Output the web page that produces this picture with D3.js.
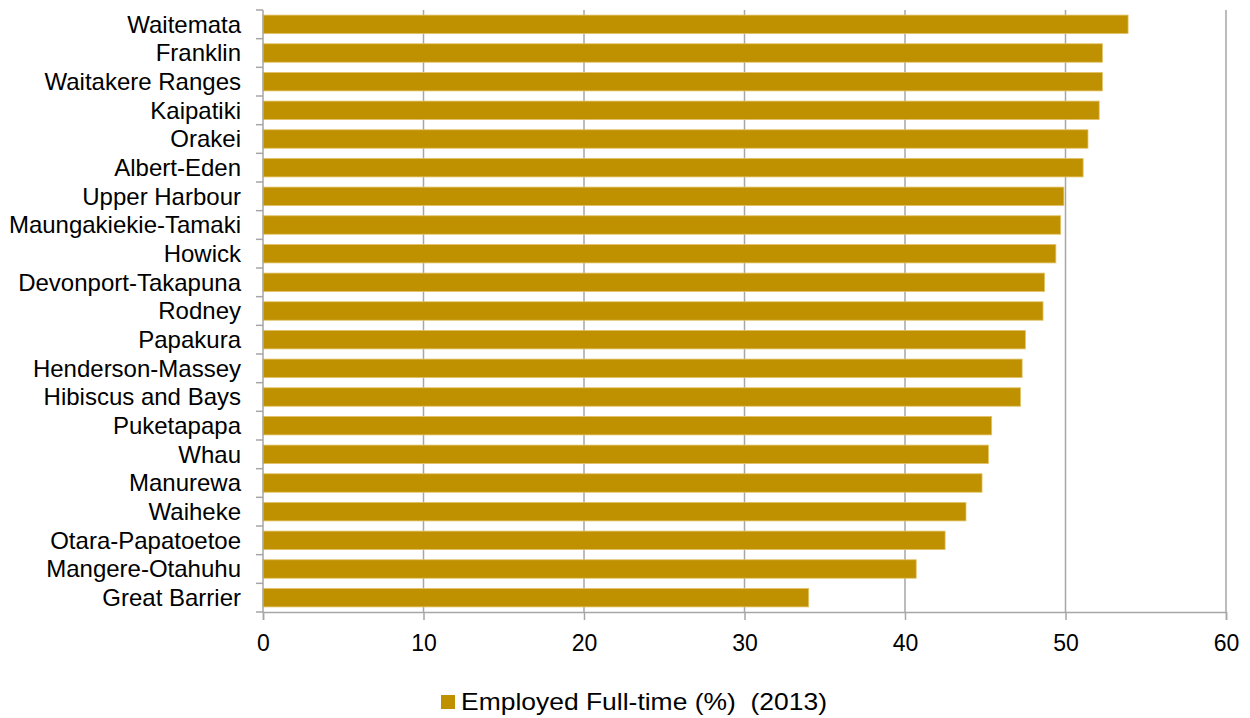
<!DOCTYPE html>
<html>
<head>
<meta charset="utf-8">
<script src="https://d3js.org/d3.v7.min.js"></script>
<style>
  body { margin: 0; background: #fff; }
  text { font-family: "Liberation Sans", Arial, sans-serif; fill: #000; }
</style>
</head>
<body>
<script>
var boards = ["Waitemata", "Franklin", "Waitakere Ranges", "Kaipatiki", "Orakei", "Albert-Eden",
  "Upper Harbour", "Maungakiekie-Tamaki", "Howick", "Devonport-Takapuna", "Rodney", "Papakura",
  "Henderson-Massey", "Hibiscus and Bays", "Puketapapa", "Whau", "Manurewa", "Waiheke",
  "Otara-Papatoetoe", "Mangere-Otahuhu", "Great Barrier"];
var fullTime = [53.9, 52.3, 52.3, 52.1, 51.4, 51.1, 49.9, 49.7, 49.4, 48.7, 48.6, 47.5,
  47.3, 47.2, 45.4, 45.2, 44.8, 43.8, 42.5, 40.7, 34.0];
var xTicks = [0, 10, 20, 30, 40, 50, 60];
var seriesName = "Employed Full-time (%)  (2013)";

var W = 1250, H = 718;
var margin = {top: 10, right: 24, bottom: 106, left: 263};
var w = W - margin.left - margin.right,
    h = H - margin.top - margin.bottom;

var svg = d3.select("body").append("svg")
  .attr("width", W).attr("height", H);
var g = svg.append("g")
  .attr("transform", "translate(" + margin.left + "," + margin.top + ")");

var x = d3.scaleLinear().domain([0, 60]).range([0, w]);
var y = d3.scaleBand().domain(boards).range([0, h])
  .paddingInner(0.355).paddingOuter(0.1775);

// vertical gridlines
g.selectAll(".grid").data(xTicks.slice(1)).enter().append("line")
  .attr("x1", function(d) { return x(d); })
  .attr("x2", function(d) { return x(d); })
  .attr("y1", 0).attr("y2", h)
  .attr("stroke", "#a6a6a6").attr("stroke-width", 1.5);

// bars
g.selectAll(".bar").data(boards).enter().append("rect")
  .attr("x", x(0))
  .attr("y", function(d) { return y(d); })
  .attr("width", function(d, i) { return x(fullTime[i]) - x(0); })
  .attr("height", y.bandwidth())
  .attr("fill", "#bf9000")
  .attr("stroke", "#e3c46a").attr("stroke-width", 0.8);

// bottom axis
var xAxis = d3.axisBottom(x).tickValues(xTicks).tickSize(8).tickPadding(15);
var gx = g.append("g").attr("transform", "translate(0," + h + ")").call(xAxis);
gx.select(".domain").attr("stroke", "#a6a6a6").attr("stroke-width", 1.5);
gx.selectAll(".tick line").attr("stroke", "#a6a6a6").attr("stroke-width", 1.5);
gx.selectAll(".tick text").style("font-size", "23px")
  .style("font-family", "'Liberation Sans', Arial, sans-serif").attr("fill", "#000");

// left axis: line with ticks at category boundaries
g.append("line").attr("x1", 0).attr("x2", 0).attr("y1", 0).attr("y2", h)
  .attr("stroke", "#a6a6a6").attr("stroke-width", 1.5);
var step = y.step();
var bounds = d3.range(boards.length + 1);
g.selectAll(".ytick").data(bounds).enter().append("line")
  .attr("x1", -7).attr("x2", 0)
  .attr("y1", function(d) { return d * step; })
  .attr("y2", function(d) { return d * step; })
  .attr("stroke", "#a6a6a6").attr("stroke-width", 1.5);

g.selectAll(".ylab").data(boards).enter().append("text")
  .attr("x", -22)
  .attr("y", function(d) { return y(d) + y.bandwidth() / 2; })
  .attr("dy", "0.35em")
  .attr("text-anchor", "end")
  .style("font-size", "24px")
  .text(function(d) { return d; });

// legend
var leg = svg.append("g").attr("transform", "translate(441,695)");
leg.append("rect").attr("width", 14).attr("height", 14).attr("fill", "#bf9000");
leg.append("text").attr("x", 20).attr("y", 7).attr("dy", "0.35em")
  .style("font-size", "24px")
  .attr("xml:space", "preserve")
  .attr("textLength", 366).attr("lengthAdjust", "spacingAndGlyphs")
  .text(seriesName);
</script>
</body>
</html>
